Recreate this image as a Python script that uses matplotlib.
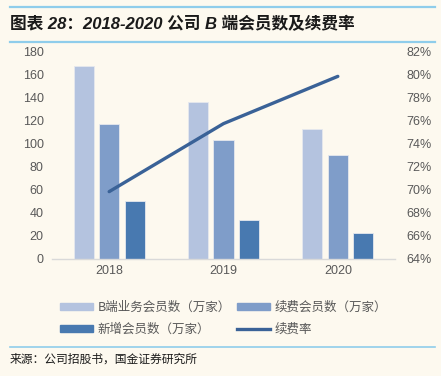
import matplotlib
matplotlib.use("Agg")
import matplotlib.pyplot as plt
from matplotlib.lines import Line2D
import numpy as np

plt.rcParams['font.family'] = ['Noto Sans CJK SC', 'DejaVu Sans']

years = ["2018", "2019", "2020"]
b_members = [167, 135.5, 112.5]
renew_members = [116.5, 102.5, 89.5]
new_members = [50, 33, 22.5]
renew_rate = [69.8, 75.7, 79.8]

series_labels = ["B端业务会员数（万家）", "续费会员数（万家）", "新增会员数（万家）", "续费率"]
colors = ["#B4C3DF", "#7F9DC9", "#4879B0", "#3A6297"]
bg = "#FDF9EF"
rule = "#8FCDEB"
num_font = ['Liberation Sans', 'DejaVu Sans']

fig = plt.figure(figsize=(4.41, 3.76), dpi=100, facecolor=bg)
ax = fig.add_axes([52/441, 1-258.5/376, (395-52)/441, (258.5-51)/376])
ax.set_facecolor(bg)

x = np.arange(len(years))
w = 0.175
off = 0.223
ax.bar(x - off, b_members, w, color=colors[0], edgecolor="#E6E8EE", linewidth=0.6, zorder=2)
ax.bar(x, renew_members, w, color=colors[1], edgecolor="#E6E8EE", linewidth=0.6, zorder=2)
ax.bar(x + off, new_members, w, color=colors[2], edgecolor="#E6E8EE", linewidth=0.6, zorder=2)
ax.set_xlim(-0.5, 2.5)
ax.set_ylim(0, 180)
ax.set_yticks(range(0, 181, 20))
ax.set_xticks(x)
ax.set_xticklabels(years)
for s in ["top", "left", "right"]:
    ax.spines[s].set_visible(False)
ax.spines["bottom"].set_color("#D9D9D9")
ax.spines["bottom"].set_linewidth(1.0)
ax.tick_params(length=0, labelsize=9, labelcolor="#595959", pad=6)
ax.tick_params(axis='x', pad=5)

ax2 = ax.twinx()
ax2.plot(x, renew_rate, color=colors[3], linewidth=2.4, solid_capstyle='round', zorder=3)
ax2.set_ylim(64, 82)
ax2.set_yticks(range(64, 83, 2))
ax2.set_yticklabels([f"{v}%" for v in range(64, 83, 2)])
for s in ["top", "left", "right", "bottom"]:
    ax2.spines[s].set_visible(False)
ax2.tick_params(length=0, labelsize=9, labelcolor="#595959", pad=8)

for lab in ax.get_xticklabels() + ax.get_yticklabels() + ax2.get_yticklabels():
    lab.set_family(num_font)

handles = [
    plt.Rectangle((0, 0), 1, 1, color=colors[0]),
    plt.Rectangle((0, 0), 1, 1, color=colors[2]),
    plt.Rectangle((0, 0), 1, 1, color=colors[1]),
    Line2D([0], [0], color=colors[3], linewidth=2.4),
]
labels = [series_labels[0], series_labels[2], series_labels[1], series_labels[3]]
leg = fig.legend(handles, labels, ncol=2, loc="upper left", bbox_to_anchor=(49/441, 1-290/376),
                 frameon=False, fontsize=9, handlelength=2.6, handleheight=0.5,
                 columnspacing=0.5, handletextpad=0.4, labelspacing=0.7, labelcolor="#595959")

# title and rules
fig.add_artist(Line2D([10/441, 435/441], [1-6.5/376, 1-6.5/376], color=rule, linewidth=1.6))
fig.add_artist(Line2D([10/441, 435/441], [1-42/376, 1-42/376], color=rule, linewidth=1.6))
fig.text(10/441, 1-24/376, "图表 28：2018-2020 公司 B 端会员数及续费率", fontsize=12,
         fontweight="bold", fontstyle="italic", color="#1a1a1a", va="center", ha="left",
         family=['Liberation Sans', 'Noto Sans CJK SC'])
fig.add_artist(Line2D([10/441, 435/441], [1-346.7/376, 1-346.7/376], color=rule, linewidth=1.2))
fig.text(10/441, 1-359/376, "来源：公司招股书，国金证券研究所", fontsize=8.5, color="#1a1a1a",
         va="center", ha="left")

fig.savefig("out.png", dpi=100, facecolor=bg)
